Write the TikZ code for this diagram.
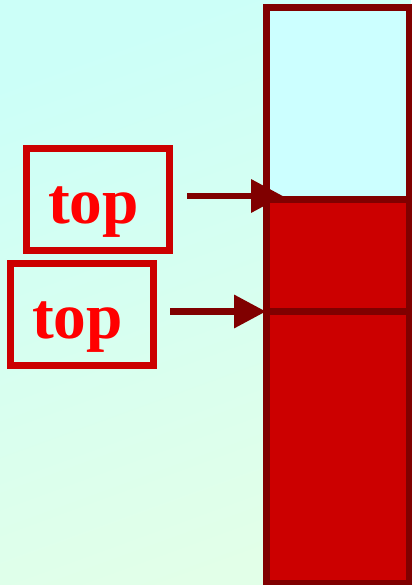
\documentclass[tikz,border=0pt]{standalone}
\usepackage{fontspec}
\setmainfont{Liberation Serif}
\usetikzlibrary{arrows.meta}
\definecolor{bgtop}{RGB}{204,255,248}
\definecolor{bgbot}{RGB}{226,255,232}
\definecolor{cellcyan}{RGB}{204,255,255}
\definecolor{cellred}{RGB}{204,0,0}
\definecolor{darkred}{RGB}{128,0,0}
\definecolor{boxred}{RGB}{204,0,0}
\definecolor{txtred}{RGB}{255,0,0}
\tikzset{
  topbox/.style={draw=boxred, line width=5pt, minimum width=107.25pt, minimum height=76.5pt, inner sep=0pt},
  toptext/.style={anchor=base, inner sep=0pt, text=txtred, font=\fontsize{49}{52}\selectfont\bfseries},
  cellline/.style={draw=darkred, line width=5pt},
  ptr/.style={draw=darkred, line width=5pt, -{Triangle[length=24pt,width=24pt]}}
}
\begin{document}
\begin{tikzpicture}[x=0.75pt,y=-0.75pt]
\useasboundingbox (0,0) rectangle (411,585);
\shade[top color=bgtop, bottom color=bgbot, shading angle=20] (0,0) rectangle (411,585);
% stack cells
\fill[cellcyan] (266.5,7.5) rectangle (409.5,199.5);
\fill[cellred] (266.5,199.5) rectangle (409.5,584);
\draw[cellline] (266.5,7.5) rectangle (409.5,583.5);
\draw[cellline] (266.5,199.5) coordinate (d1l) -- (409.5,199.5);
\draw[cellline] (266.5,311.5) coordinate (d2l) -- (409.5,311.5);
% boxes
\node[topbox] (b1) at (98,199.5) {};
\node[topbox] (b2) at (82,314.5) {};
\node[toptext] (l1) at (93.5,223) {top};
\node[toptext] (l2) at (77.5,338) {top};
\coordinate (t1) at (283,196);
\coordinate (t2) at (266,311.5);
\draw[ptr] (187,196) -- (t1);
\draw[ptr] (170,311.5) -- (t2);
\end{tikzpicture}
\end{document}
